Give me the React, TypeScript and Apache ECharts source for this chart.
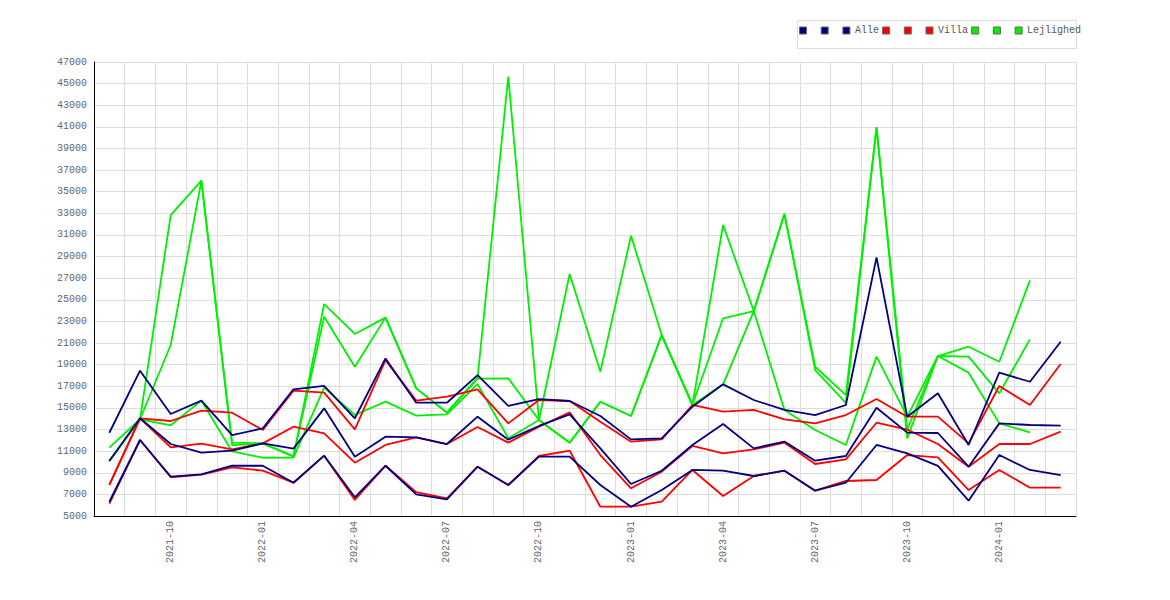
import React, { useEffect, useRef } from "react";
import * as echarts from "echarts";

const months = [
  "2021-08", "2021-09", "2021-10", "2021-11", "2021-12", "2022-01", "2022-02", "2022-03",
  "2022-04", "2022-05", "2022-06", "2022-07", "2022-08", "2022-09", "2022-10", "2022-11",
  "2022-12", "2023-01", "2023-02", "2023-03", "2023-04", "2023-05", "2023-06", "2023-07",
  "2023-08", "2023-09", "2023-10", "2023-11", "2023-12", "2024-01", "2024-02", "2024-03",
];

const alleHi = [12700, 18440, 14440, 15670, 12490, 13110, 16720, 17030, 14040, 19580, 15480, 15480, 18040, 15180, 15820, 15640, 14250, 12090, 12180, 15110, 17180, 15730, 14810, 14340, 15270, 28930, 14190, 16350, 11570, 18260, 17420, 21120];
const alleMid = [10090, 14040, 11660, 10860, 11040, 11720, 11230, 14960, 10490, 12340, 12280, 11660, 14190, 12060, 13330, 14400, 11260, 7960, 9190, 11570, 13510, 11260, 11880, 10120, 10550, 15020, 12710, 12680, 9560, 13570, 13420, 13360];
const alleLo = [6320, 12030, 8640, 8850, 9650, 9650, 8080, 10580, 6730, 9650, 7000, 6540, 9560, 7870, 10490, 10490, 7870, 5860, 7400, 9260, 9190, 8700, 9190, 7340, 8080, 11570, 10800, 9630, 6420, 10640, 9260, 8790];

const villaHi = [7870, 14040, 13790, 14740, 14560, 12950, 16600, 16410, 13020, 19420, 15670, 16040, 16720, 13570, 15730, 15640, 13720, 11880, 12090, 15270, 14650, 14810, 13940, 13570, 14340, 15820, 14190, 14190, 11720, 17030, 15270, 19060];
const villaMid = [7870, 14040, 11350, 11690, 11160, 11720, 13260, 12650, 9930, 11570, 12280, 11660, 13230, 11790, 13260, 14590, 10640, 7560, 9100, 11480, 10800, 11170, 11780, 9810, 10240, 13630, 12990, 11660, 9560, 11660, 11660, 12800];
const villaLo = [6150, 12030, 8580, 8830, 9500, 9190, 8080, 10580, 6480, 9650, 7200, 6620, 9560, 7870, 10550, 11040, 5860, 5860, 6320, 9260, 6850, 8700, 9190, 7340, 8240, 8330, 10640, 10430, 7400, 9260, 7620, 7620];

const lejA = [11320, 13950, 32840, 36020, 11780, 11720, 10520, 24610, 21840, 23350, 16810, 14560, 17800, 45650, 13880, 27390, 18350, 30930, 21740, 15270, 31920, 23960, 14810, 12960, 11570, 19740, 14190, 19800, 20660, 19270, 26800, null];
const lejB = [10090, 13950, 20820, 36020, 11560, 11720, 10520, 23440, 18810, 23350, 16810, 14560, 17700, 17740, 13880, 11780, 15570, 14250, 21740, 15270, 23290, 23960, 32940, 18810, 16190, 40950, 12180, 19800, 19740, 16350, 21340, null];
const lejC = [10090, 13950, 13390, 15670, 10970, 10390, 10400, 16870, 14340, 15580, 14280, 14400, 17200, 12190, 13880, 11780, 15570, 14250, 21740, 15270, 17180, 23960, 32940, 18500, 15460, 40950, 13000, 19800, 18260, 13570, 12740, null];

const yTicks = { min: 5000, max: 47000, interval: 2000 };

const NAVY = "#000080";
const RED = "#ff0000";
const GREEN = "#00f000";
const FONT = "'Liberation Mono', 'DejaVu Sans Mono', monospace";

function mk(name: string, data: (number | null)[], color: string) {
  return {
    type: "line",
    name,
    data,
    color,
    symbol: "none",
    showSymbol: false,
    lineStyle: { width: 1.8, color },
    itemStyle: { color },
    emphasis: { disabled: true },
    animation: false,
  };
}

export default function App() {
  const ref = useRef<HTMLDivElement>(null);
  useEffect(() => {
    if (!ref.current) return;
    const chart = echarts.init(ref.current, undefined, { renderer: "svg" });
    chart.setOption({
      animation: false,
      backgroundColor: "#fff",
      grid: { left: 94, right: 94, top: 62, bottom: 84, containLabel: false },
      graphic: [
        {
          type: "rect",
          silent: true,
          shape: { x: 797.5, y: 20.5, width: 279, height: 28 },
          style: { fill: "none", stroke: "#dddddd", lineWidth: 1 },
        },
      ],
      legend: {
        data: ["Alle_1", "Alle_2", "Alle", "Villa_1", "Villa_2", "Villa", "Lejlighed_1", "Lejlighed_2", "Lejlighed"],
        left: 799,
        top: 25.5,
        padding: 0,
        itemWidth: 7,
        itemHeight: 7,
        itemGap: 3.2,
        icon: "rect",
        selectedMode: false,
        itemStyle: { borderColor: "#666", borderWidth: 1 },
        textStyle: { fontFamily: FONT, fontSize: 10, color: "#555", lineHeight: 10 },
        formatter: (n: string) => (n.indexOf("_") >= 0 ? "\u00a0" : n),
      },
      xAxis: {
        type: "category",
        data: months,
        boundaryGap: true,
        axisLine: { show: true, lineStyle: { color: "#000", width: 1 } },
        axisTick: { show: false },
        axisLabel: {
          interval: (i: number) => i % 3 === 2,
          rotate: 90,
          margin: 5,
          fontFamily: FONT,
          fontSize: 10,
          color: "#666",
        },
        splitLine: { show: true, interval: 0, lineStyle: { color: "#dddddd", width: 1 } },
      },
      yAxis: {
        type: "value",
        min: yTicks.min,
        max: yTicks.max,
        interval: yTicks.interval,
        axisLine: { show: true, lineStyle: { color: "#000", width: 1 } },
        axisTick: { show: false },
        axisLabel: {
          margin: 7,
          fontFamily: FONT,
          fontSize: 10,
          color: "#666",
          formatter: (v: number) => String(v),
        },
        splitLine: { show: true, lineStyle: { color: "#dddddd", width: 1 } },
      },
      series: [
        mk("Lejlighed_1", lejA, GREEN),
        mk("Lejlighed_2", lejB, GREEN),
        mk("Lejlighed", lejC, GREEN),
        mk("Villa_1", villaHi, RED),
        mk("Villa_2", villaMid, RED),
        mk("Villa", villaLo, RED),
        mk("Alle_1", alleHi, NAVY),
        mk("Alle_2", alleMid, NAVY),
        mk("Alle", alleLo, NAVY),
      ],
    });
    return () => chart.dispose();
  }, []);
  return (
    <div
      ref={ref}
      style={{ position: "absolute", left: 0, top: 0, width: 1170, height: 600 }}
    />
  );
}
